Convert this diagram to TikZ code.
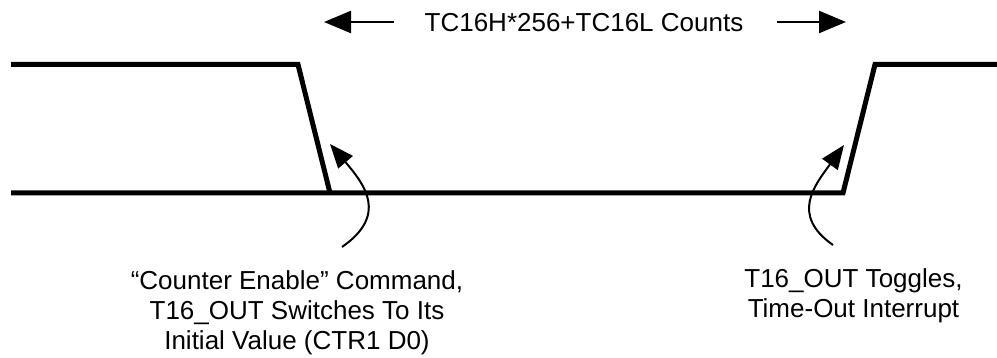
\documentclass[tikz,border=0pt]{standalone}
\usepackage{fontspec}
\setmainfont{Liberation Sans}
\usetikzlibrary{arrows.meta}
\begin{document}
\begin{tikzpicture}[x=1pt,y=-1pt,
  wave/.style={line width=5pt, line join=miter},
  span/.style={line width=2.5pt, -{Triangle[length=27pt,width=22pt]}},
  pointer/.style={line width=2pt, -{Triangle[length=24pt,width=19pt]}},
  lbl/.style={font=\fontsize{26}{30}\selectfont, inner sep=0pt, align=center}]
\useasboundingbox (0,0) rectangle (997,358);
% waveform
\coordinate (hiL) at (11,64.5);
\coordinate (fallTop) at (298,64.5);
\coordinate (fallBot) at (330,193);
\coordinate (loL) at (11,193);
\coordinate (riseBot) at (843,193);
\coordinate (riseTop) at (875,64.5);
\coordinate (hiR) at (997,64.5);
\draw[wave] (hiL) -- (fallTop) -- (fallBot);
\draw[wave] (loL) -- (riseBot) -- (riseTop) -- (hiR);
% span label
\node[lbl, anchor=base] (count) at (584,32) {TC16H*256+TC16L Counts};
\coordinate (lArrS) at (394,22);
\coordinate (lArrE) at (324,22);
\coordinate (rArrS) at (777,22);
\coordinate (rArrE) at (846,22);
\draw[span] (lArrS) -- (lArrE);
\draw[span] (rArrS) -- (rArrE);
% pointers
\coordinate (p1s) at (342,247);
\coordinate (p1e) at (330,144);
\coordinate (p2s) at (833,245);
\coordinate (p2e) at (844,145);
\draw[pointer] (p1s) .. controls (388,215) and (365,185) .. (p1e);
\draw[pointer] (p2s) .. controls (790,215) and (815,185) .. (p2e);
% labels
\node[lbl, anchor=north] (enable) at (297,270) {“Counter Enable” Command,\\T16\_OUT Switches To Its\\Initial Value (CTR1 D0)};
\node[lbl, anchor=north] (toggle) at (853.5,268.5) {T16\_OUT Toggles,\\Time-Out Interrupt};
\end{tikzpicture}
\end{document}
